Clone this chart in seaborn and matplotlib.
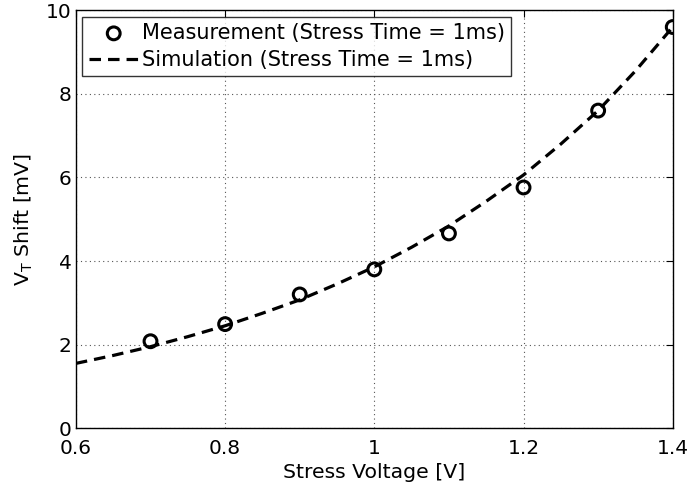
import matplotlib
matplotlib.use("Agg")
import matplotlib.pyplot as plt
import seaborn as sns
import pandas as pd

# Data
meas_voltage = [0.7, 0.8, 0.9, 1.0, 1.1, 1.2, 1.3, 1.4]
meas_shift = [2.08, 2.49, 3.2, 3.8, 4.66, 5.76, 7.6, 9.6]

sim_voltage = [0.6, 0.65, 0.7, 0.75, 0.8, 0.85, 0.9, 0.95, 1.0, 1.05, 1.1,
               1.15, 1.2, 1.25, 1.3, 1.35, 1.4]
sim_shift = [1.55, 1.74, 1.95, 2.19, 2.45, 2.75, 3.07, 3.45, 3.86, 4.33, 4.84,
             5.43, 6.06, 6.8, 7.6, 8.55, 9.6]

x_ticks = [0.6, 0.8, 1.0, 1.2, 1.4]
x_tick_labels = ["0.6", "0.8", "1", "1.2", "1.4"]
y_ticks = [0, 2, 4, 6, 8, 10]

meas_label = "Measurement (Stress Time = 1ms)"
sim_label = "Simulation (Stress Time = 1ms)"

sns.set_style("white")
plt.rcParams["font.family"] = ["DejaVu Sans"]
plt.rcParams["mathtext.default"] = "regular"
plt.rcParams["text.color"] = "black"
plt.rcParams["axes.labelcolor"] = "black"
plt.rcParams["xtick.color"] = "black"
plt.rcParams["ytick.color"] = "black"

FS_TICK = 14.5
FS_LAB = 14.7
FS_LEG = 15

fig = plt.figure(figsize=(6.9, 4.91), dpi=100)
ax = fig.add_axes([0.110, 0.128, 0.865, 0.851])

df_meas = pd.DataFrame({"v": meas_voltage, "s": meas_shift})
df_sim = pd.DataFrame({"v": sim_voltage, "s": sim_shift})

sns.lineplot(data=df_sim, x="v", y="s", ax=ax, color="black", linewidth=2.3,
             linestyle=(0, (3.6, 2.2)), label=sim_label, zorder=3)
sns.scatterplot(data=df_meas, x="v", y="s", ax=ax, marker="o", s=85,
                facecolors="none", edgecolor="black", linewidth=2.2,
                label=meas_label, zorder=4)

ax.set_xlim(0.6, 1.4)
ax.set_ylim(0, 10)
ax.set_xticks(x_ticks)
ax.set_xticklabels(x_tick_labels)
ax.set_yticks(y_ticks)
ax.tick_params(direction="in", length=5, width=0.8, labelsize=FS_TICK,
               colors="black", labelcolor="black", top=True, right=True)
ax.tick_params(axis="x", pad=7.5)
ax.tick_params(axis="y", pad=3)
ax.grid(True, linestyle=(0, (1, 3)), color="#555555", linewidth=0.8)
for sp in ax.spines.values():
    sp.set_color("black")
    sp.set_linewidth(1.0)

ax.set_xlabel("Stress Voltage [V]", fontsize=FS_LAB, labelpad=4, color="black")
ax.set_ylabel(r"$V_T$ Shift [mV]", fontsize=FS_LAB, labelpad=8, color="black")

handles, labels = ax.get_legend_handles_labels()
order = [labels.index(meas_label), labels.index(sim_label)]
leg = ax.legend([handles[i] for i in order], [labels[i] for i in order],
                loc="upper left", bbox_to_anchor=(0.011, 0.985), fontsize=FS_LEG,
                frameon=True, fancybox=False, edgecolor="black",
                handlelength=2.4, handletextpad=0.15, borderpad=0.3,
                labelspacing=0.35, borderaxespad=0.0)
leg.get_frame().set_linewidth(1.0)
for t in leg.get_texts():
    t.set_color("black")

fig.savefig("out.png", dpi=100)
